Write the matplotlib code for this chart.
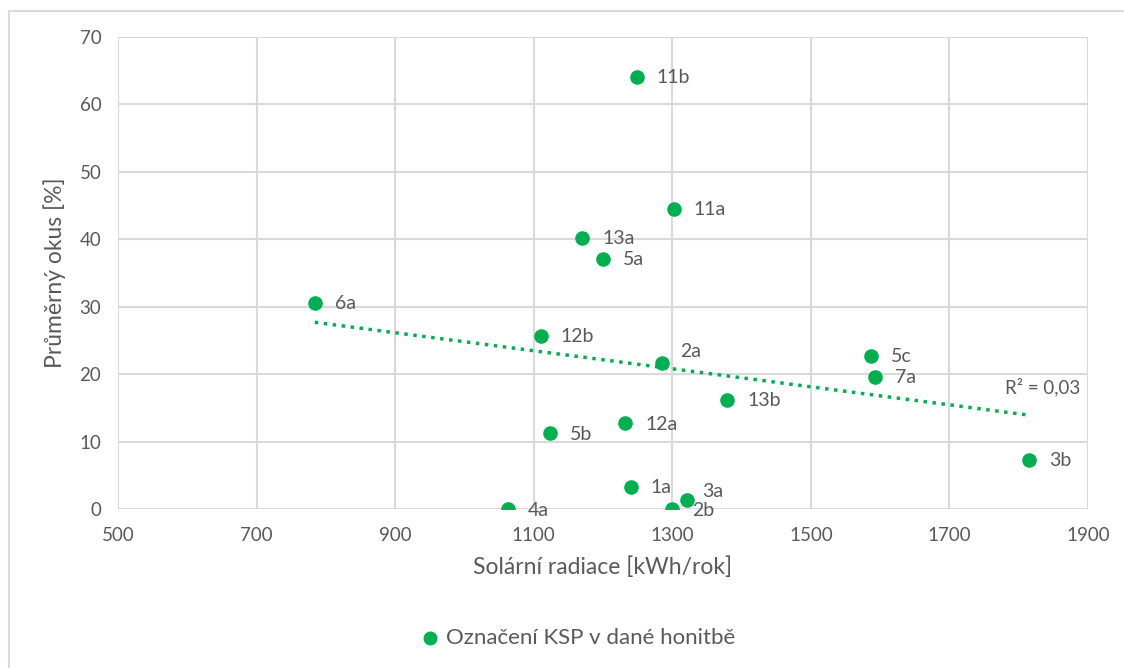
import numpy as np
import matplotlib.pyplot as plt
from matplotlib.lines import Line2D

plt.rcParams['font.family'] = ['Lato', 'DejaVu Sans']

# data
names = ['11b', '11a', '13a', '5a', '6a', '12b', '2a', '5c', '7a', '13b',
         '12a', '5b', '3b', '1a', '3a', '2b', '4a']
radiace = [1249, 1302, 1170, 1200, 784, 1110, 1285, 1587, 1592, 1379,
           1232, 1123, 1815, 1240, 1321, 1299, 1063]
okus = [64.1, 44.5, 40.2, 37.1, 30.6, 25.7, 21.7, 22.7, 19.6, 16.2,
        12.7, 11.2, 7.3, 3.3, 1.3, 0.0, 0.0]
r2_text = 'R² = 0,03'

green = '#00B050'
grey = '#595959'
grid = '#D9D9D9'

# label offsets (pixels) for the few labels that are not plain right of point
offsets = {'2a': (18, 11), '3a': (15, 9), '2b': (21, -1)}

fig = plt.figure(figsize=(11.24, 6.68), dpi=100)
ax = fig.add_axes([118 / 1124, 1 - 509 / 668, 970 / 1124, 472 / 668])

# outer chart border (runs off the right and bottom of the picture)
fig.add_artist(Line2D([8.5 / 1124, 8.5 / 1124], [0, 1 - 11 / 668], color=grid, lw=1.5))
fig.add_artist(Line2D([8.5 / 1124, 1], [1 - 11 / 668, 1 - 11 / 668], color=grid, lw=1.5))

ax.scatter(radiace, okus, s=90, color=green, zorder=3,
           label='Označení KSP v dané honitbě')

for n, x, y in zip(names, radiace, okus):
    dx, dy = offsets.get(n, (20, -1))
    ax.annotate(n, (x, y), xytext=(dx, dy), textcoords='offset pixels',
                ha='left', va='center', fontsize=14, color=grey)

# linear trendline
k, q = np.polyfit(radiace, okus, 1)
tx = np.array([min(radiace), max(radiace)])
ax.plot(tx, k * tx + q, color=green, lw=2.5, ls=(0, (1, 1.6)), zorder=2)
ax.text(1835, 18.1, r2_text, ha='center', va='center', fontsize=13.5, color=grey)

ax.set_xlim(500, 1900)
ax.set_ylim(0, 70)
ax.set_xticks(range(500, 1901, 200))
ax.set_yticks(range(0, 71, 10))
ax.grid(True, color=grid, lw=1.5)
ax.set_axisbelow(True)
for s in ax.spines.values():
    s.set_visible(False)
ax.tick_params(length=0, labelsize=13.5, labelcolor=grey)
ax.tick_params(axis='x', pad=13)
ax.tick_params(axis='y', pad=12)

ax.set_xlabel('Solární radiace [kWh/rok]', fontsize=16.5, color=grey, labelpad=9)
ax.set_ylabel('Průměrný okus [%]', fontsize=16.5, color=grey, labelpad=10)

fig.legend(loc='center', bbox_to_anchor=(578 / 1124, 1 - 638 / 668), frameon=False,
           fontsize=16, labelcolor=grey, handlelength=0.8, handletextpad=0.3,
           markerscale=0.95)

fig.savefig('out.png', dpi=100)
